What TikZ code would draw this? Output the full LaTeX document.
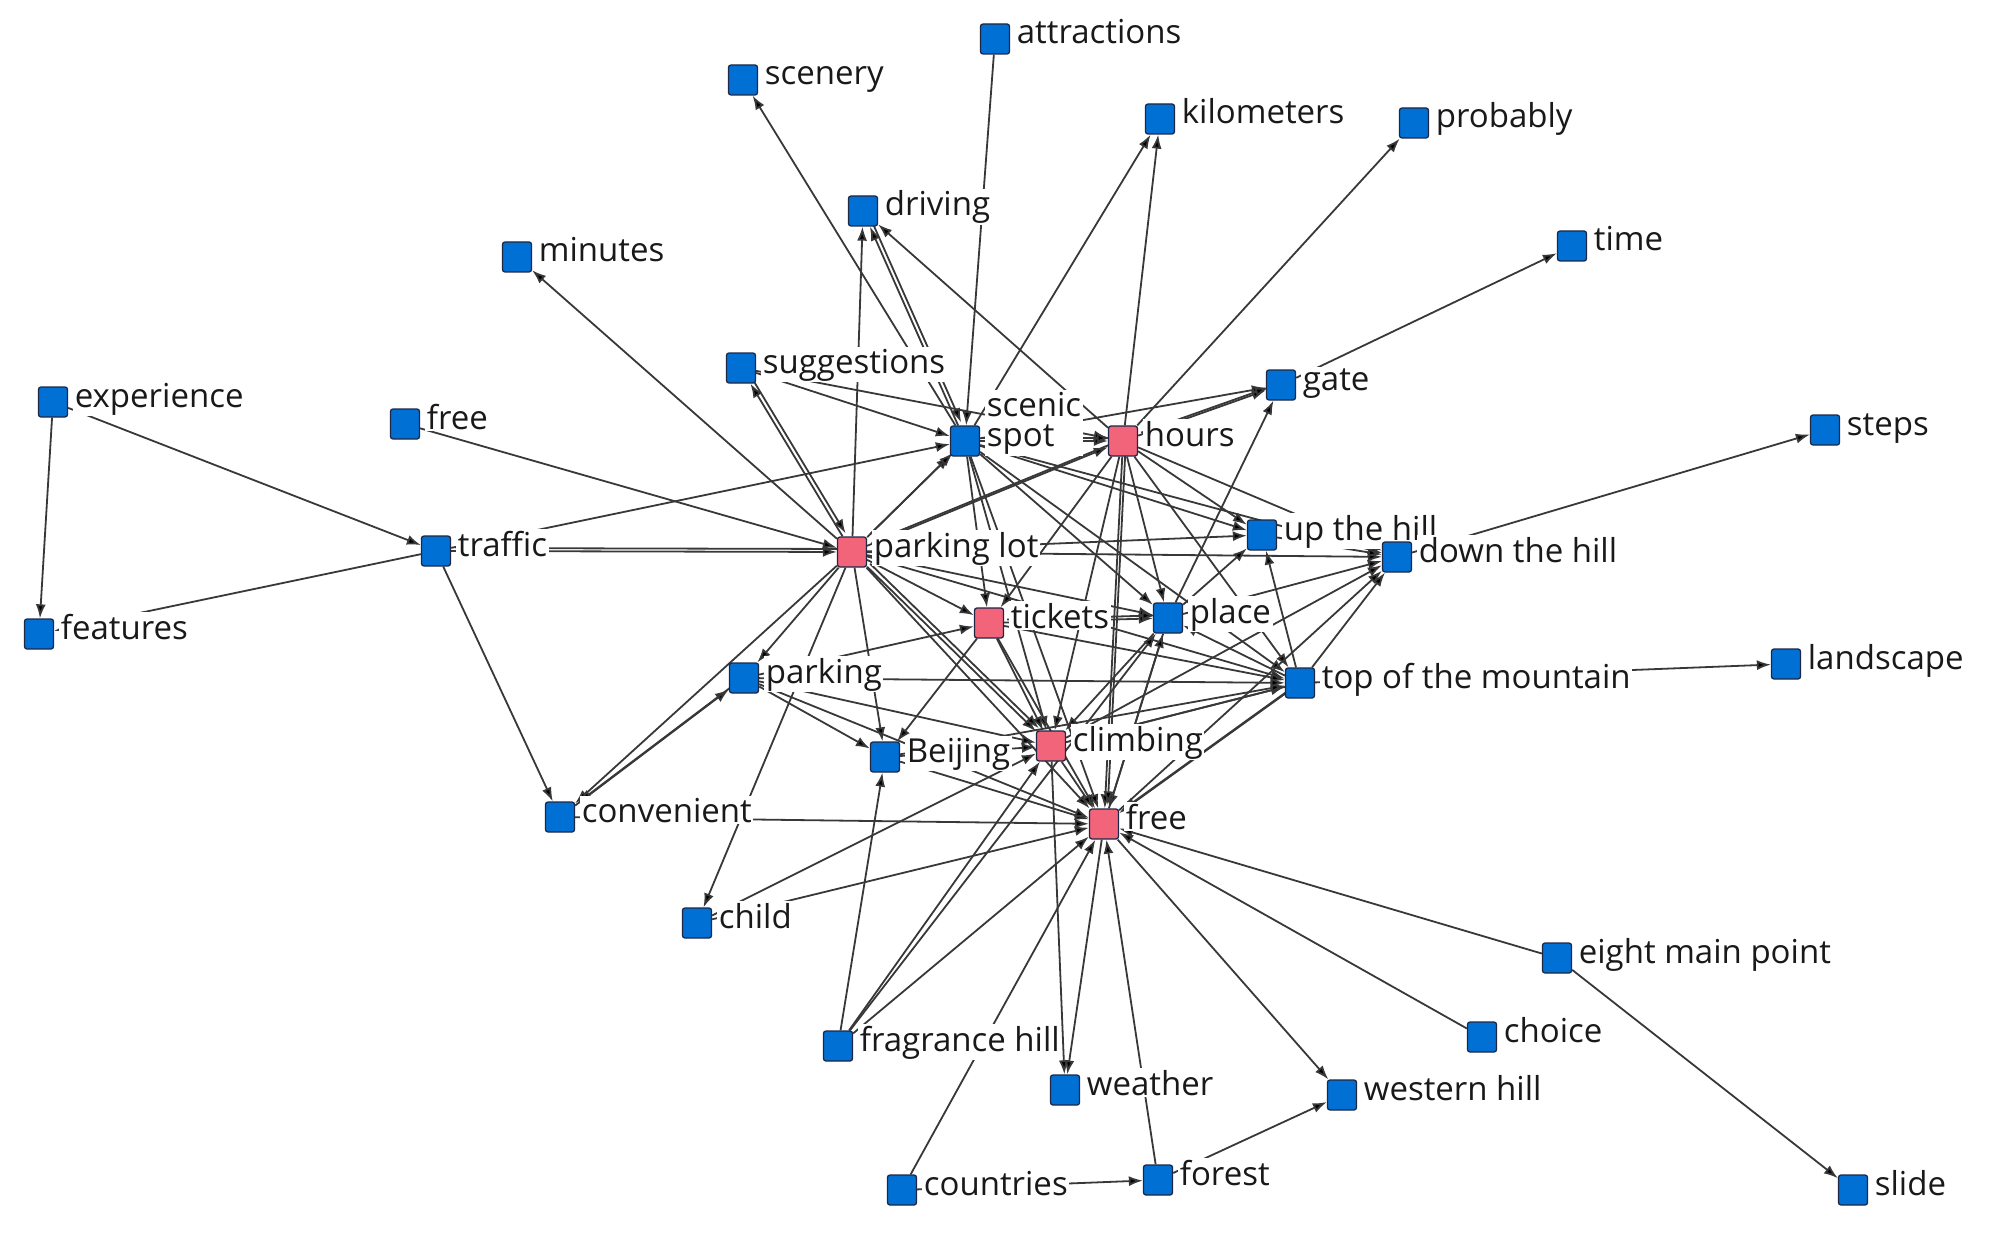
\documentclass[tikz,border=0pt]{standalone}
\usepackage{fontspec}
\setmainfont{Open Sans}
\usetikzlibrary{arrows.meta}
\definecolor{nblue}{RGB}{0,112,212}
\definecolor{npink}{RGB}{242,100,122}
\definecolor{nbord}{RGB}{30,40,70}
\pgfdeclarelayer{edges}
\pgfdeclarelayer{labels}
\pgfsetlayers{edges,labels,main}
\begin{document}
\begin{tikzpicture}[x=1pt,y=-1pt,
  box/.style={draw=nbord,line width=1.3pt,minimum width=29pt,minimum height=30pt,inner sep=0pt,rounded corners=2.5pt},
  bbox/.style={box,fill=nblue},
  rbox/.style={box,fill=npink},
  lbl/.style={anchor=base west,inner sep=1.5pt,fill=white,text=black!90,font=\fontsize{33}{27}\selectfont},
  e/.style={draw=black!78,line width=1.8pt,-{Latex[length=14pt,width=10pt,fill=black]}},
  dbl/.style={transform canvas={shift={(3pt,3pt)}}}]
\useasboundingbox (0,0) rectangle (1997,1233);
% ---------- nodes ----------
\node[bbox] (att) at (995,39) {};
\node[bbox] (scen) at (743,80) {};
\node[bbox] (km) at (1160,119) {};
\node[bbox] (prob) at (1414,123) {};
\node[bbox] (drv) at (863,211) {};
\node[bbox] (min) at (517,257) {};
\node[bbox] (time) at (1572,246) {};
\node[bbox] (sug) at (741,368) {};
\node[bbox] (gate) at (1281,385) {};
\node[bbox] (exp) at (53,402) {};
\node[bbox] (freeL) at (405,424) {};
\node[bbox] (ss) at (965,441) {};
\node[rbox] (hrs) at (1123,441) {};
\node[bbox] (steps) at (1825,430) {};
\node[bbox] (trf) at (436,551) {};
\node[rbox] (pl) at (852,552) {};
\node[bbox] (up) at (1262,535) {};
\node[bbox] (down) at (1397,557) {};
\node[bbox] (feat) at (39,634) {};
\node[rbox] (tk) at (989,623) {};
\node[bbox] (plc) at (1168,618) {};
\node[bbox] (pk) at (744,678) {};
\node[bbox] (top) at (1300,683) {};
\node[bbox] (land) at (1786,664) {};
\node[bbox] (bj) at (885,757) {};
\node[rbox] (clb) at (1051,746) {};
\node[bbox] (conv) at (560,817) {};
\node[rbox] (fr) at (1104,824) {};
\node[bbox] (child) at (697,923) {};
\node[bbox] (eight) at (1557,958) {};
\node[bbox] (choice) at (1482,1037) {};
\node[bbox] (frag) at (838,1046) {};
\node[bbox] (wea) at (1065,1090) {};
\node[bbox] (west) at (1342,1095) {};
\node[bbox] (ctry) at (902,1190) {};
\node[bbox] (forest) at (1158,1180) {};
\node[bbox] (slide) at (1853,1190) {};
% ---------- labels ----------
\begin{pgfonlayer}{labels}
\foreach \n/\t in {att/attractions, scen/scenery, km/kilometers, prob/probably, drv/driving,
  min/minutes, time/time, sug/suggestions, gate/gate, exp/experience, freeL/free, hrs/hours,
  steps/steps, trf/traffic, pl/parking lot, up/up the hill, down/down the hill, feat/features,
  tk/tickets, plc/place, pk/parking, top/top of the mountain, land/landscape, bj/Beijing,
  clb/climbing, conv/convenient, fr/free, child/child, eight/eight main point, choice/choice,
  frag/fragrance hill, wea/weather, west/western hill, ctry/countries, forest/forest, slide/slide}
  \node[lbl] (\n-l) at ([xshift=5pt,yshift=-5pt]\n.east) {\t};
\node[lbl] (ss-l) at ([xshift=5pt,yshift=-5pt]ss.east)
  {\renewcommand\arraystretch{1}\begin{tabular}[b]{@{}l@{}}scenic\\spot\end{tabular}};
\end{pgfonlayer}
% ---------- edges ----------
\begin{pgfonlayer}{edges}
\foreach \a/\b in {exp/feat, exp/trf, trf/feat, trf/conv, trf/ss, trf/pl, freeL/pl,
  pl/min, pl/sug, pl/drv, pl/ss, pl/hrs, pl/up, pl/down, pl/tk, pl/plc, pl/top, pl/clb, pl/fr,
  pl/bj, pl/pk, pl/conv, pl/child,
  ss/scen, att/ss, ss/drv, ss/km, ss/hrs, ss/gate, sug/ss, sug/hrs, ss/up, ss/down, ss/plc,
  ss/tk, ss/clb, ss/fr, ss/top,
  hrs/drv, hrs/km, hrs/prob, hrs/gate, hrs/up, hrs/down, hrs/plc, hrs/top, hrs/clb, hrs/fr, hrs/tk,
  gate/time, plc/gate,
  tk/plc, tk/clb, tk/fr, tk/bj, tk/top, pk/tk,
  plc/up, plc/down, top/plc, plc/clb, plc/fr,
  up/down, top/up, top/down, down/steps, top/land, top/clb, top/fr,
  clb/fr, clb/wea, fr/wea, fr/west, forest/west, ctry/forest, forest/fr, ctry/fr,
  eight/slide, eight/fr, choice/fr,
  bj/clb, bj/fr, pk/bj, pk/clb, pk/fr, conv/pk, conv/fr, child/clb, child/fr,
  frag/bj, frag/clb, frag/fr, frag/plc, clb/down, fr/down, clb/top, bj/top, pk/top, fr/plc}
  \draw[e] (\a) -- (\b);
\foreach \a/\b in {pl/trf, pl/ss, sug/pl, ss/hrs, hrs/gate, tk/plc, drv/ss, hrs/pl, pk/conv, pl/clb, hrs/fr, top/fr}
  \draw[e,dbl] (\a) -- (\b);
\end{pgfonlayer}
\end{tikzpicture}
\end{document}
